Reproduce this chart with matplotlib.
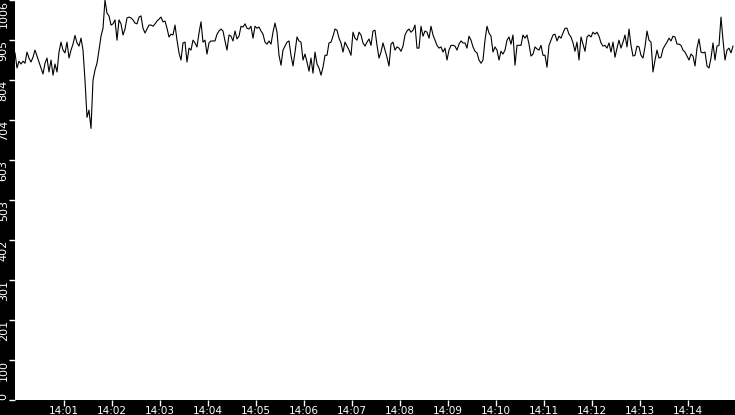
import pandas as pd
import matplotlib
matplotlib.use('Agg')
import matplotlib.pyplot as plt
import matplotlib.dates as mdates

# valores (una muestra cada 2.5 s desde las 14:00)
tramo1 = [873, 835, 852, 845, 852, 847, 875, 860, 850, 862, 880, 865, 850, 835, 820,
          847, 860, 825, 855, 817, 845, 825, 875, 900, 880, 873, 900, 860, 880, 895,
          917, 898, 890, 910, 880, 804, 711, 729, 683, 804, 830, 847, 880, 915, 935]
tramo2 = [1006, 973, 966, 943, 946, 956, 905, 956, 946, 918, 933, 961, 963, 961, 956,
          948, 946, 963, 966, 935, 923, 933, 943, 943, 940, 946, 953, 958, 963, 951,
          953, 935, 913, 920, 918, 943, 905, 873, 855, 898, 900, 850, 885, 880, 905]
tramo3 = [898, 888, 923, 951, 900, 905, 870, 898, 903, 903, 903, 920, 928, 933, 928,
          903, 880, 918, 915, 903, 928, 908, 915, 940, 938, 946, 935, 933, 940, 910,
          940, 935, 938, 928, 920, 900, 895, 903, 895, 925, 948, 925, 867, 842, 880]
tramo4 = [890, 900, 903, 867, 840, 875, 913, 903, 900, 855, 870, 850, 827, 860, 822,
          875, 845, 835, 817, 837, 867, 867, 898, 900, 915, 933, 930, 910, 898, 875,
          900, 890, 880, 867, 925, 910, 905, 925, 918, 898, 890, 900, 908, 892, 928]
tramo5 = [930, 892, 860, 875, 898, 880, 862, 840, 895, 900, 880, 888, 885, 877, 890,
          918, 928, 933, 925, 930, 943, 885, 885, 940, 915, 928, 925, 910, 940, 918,
          905, 892, 885, 888, 875, 885, 855, 880, 892, 892, 890, 880, 895, 903, 898]
tramo6 = [898, 885, 915, 905, 888, 877, 873, 855, 847, 855, 905, 940, 923, 915, 875,
          888, 880, 855, 877, 870, 880, 905, 913, 895, 918, 842, 892, 892, 892, 918,
          910, 918, 895, 865, 870, 888, 883, 880, 892, 867, 867, 837, 892, 905, 918]
tramo7 = [920, 903, 915, 910, 923, 935, 935, 920, 913, 898, 877, 900, 855, 913, 895,
          877, 913, 918, 913, 925, 920, 925, 915, 898, 890, 892, 885, 898, 875, 900,
          862, 885, 905, 885, 900, 918, 888, 933, 892, 865, 867, 890, 888, 867, 860]
tramo8 = [888, 928, 905, 900, 825, 855, 880, 860, 862, 883, 892, 900, 910, 903, 915,
          913, 895, 895, 892, 880, 875, 865, 855, 870, 865, 840, 885, 908, 875, 873,
          875, 840, 835, 860, 898, 855, 890, 892, 963, 905, 855, 880, 885, 873, 890]

valores = tramo1 + tramo2 + tramo3 + tramo4 + tramo5 + tramo6 + tramo7 + tramo8
tiempos = pd.date_range('2024-01-01 13:59:58.75', periods=len(valores), freq='2500ms')

etiquetas_y = ['0', '100', '201', '301', '402', '503', '603', '704', '804', '905', '1006']
y_max = 1006

fig = plt.figure(figsize=(7.35, 4.15), dpi=100, facecolor='black')
ax = fig.add_axes([15 / 735, 15 / 415, 720 / 735, 400 / 415])
ax.set_facecolor('white')

ax.plot(tiempos, valores, color='black', linewidth=0.8)

ax.set_ylim(0, y_max)
ax.set_xlim(pd.Timestamp('2024-01-01 13:59:58.75'), pd.Timestamp('2024-01-01 14:14:58.75'))

ax.set_yticks([y_max * i / 10 for i in range(11)])
ax.set_yticklabels(etiquetas_y, rotation=90, fontsize=8, color='white')
for i, lab in enumerate(ax.get_yticklabels()):
    lab.set_va('bottom' if i == 0 else 'top')

ax.xaxis.set_major_locator(mdates.MinuteLocator(byminute=range(1, 15)))
ax.xaxis.set_major_formatter(mdates.DateFormatter('%H:%M'))
ax.tick_params(axis='x', colors='white', labelsize=7.5, length=4, width=1, pad=0.5)
ax.tick_params(axis='y', colors='white', length=4, width=1, pad=0.5)

for s in ax.spines.values():
    s.set_visible(False)

plt.savefig('out.png', dpi=100, facecolor='black')
